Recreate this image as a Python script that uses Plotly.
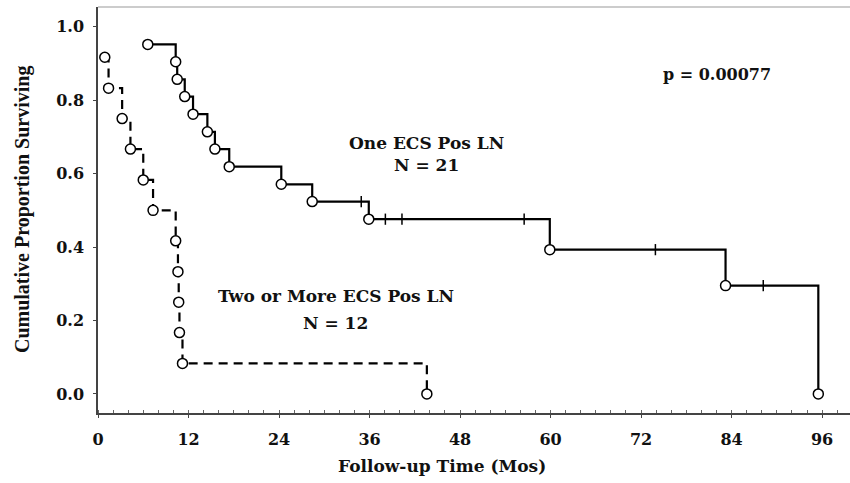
import plotly.graph_objects as go

# ---- data ----
one_times = [6.6, 10.3, 10.5, 11.5, 12.6, 14.5, 15.5, 17.4, 24.3, 28.4, 35.9, 59.9, 83.2, 95.5]
one_surv = [0.952, 0.905, 0.857, 0.810, 0.762, 0.714, 0.667, 0.619, 0.571, 0.524, 0.476, 0.393, 0.295, 0.0]
one_cens_times = [34.9, 38.1, 40.3, 56.5, 73.9, 88.2]
one_cens_surv = [0.524, 0.476, 0.476, 0.476, 0.393, 0.295]

two_times = [0.9, 1.4, 3.2, 4.3, 6.0, 7.3, 10.3, 10.6, 10.7, 10.8, 11.2, 43.6]
two_surv = [0.917, 0.833, 0.750, 0.667, 0.583, 0.500, 0.417, 0.333, 0.250, 0.167, 0.083, 0.0]

x_ticks = [0, 12, 24, 36, 48, 60, 72, 84, 96]
y_ticks = [0.0, 0.2, 0.4, 0.6, 0.8, 1.0]
y_tick_text = ["0.0", "0.2", "0.4", "0.6", "0.8", "1.0"]

label_one = ["One ECS Pos LN", "N = 21"]
label_two = ["Two or More ECS Pos LN", "N = 12"]
p_text = "p = 0.00077"
x_title = "Follow-up Time (Mos)"
y_title = "Cumulative Proportion Surviving"

SERIF = "DejaVu Serif"
TIMES = "Liberation Serif"

fig = go.Figure()

marker_style = dict(symbol="circle", size=10, color="white",
                    line=dict(color="black", width=1.5))

fig.add_trace(go.Scatter(
    x=one_times, y=one_surv, mode="lines+markers", line_shape="hv",
    line=dict(color="black", width=2.2), marker=marker_style,
    showlegend=False, cliponaxis=False))
fig.add_trace(go.Scatter(
    x=one_cens_times, y=one_cens_surv, mode="markers",
    marker=dict(symbol="line-ns-open", size=8, color="black",
                line=dict(color="black", width=1.5)),
    showlegend=False))

fig.add_trace(go.Scatter(
    x=two_times, y=two_surv, mode="lines+markers", line_shape="hv",
    line=dict(color="black", width=2.2, dash="9px,6px"), marker=marker_style,
    showlegend=False, cliponaxis=False))

tick_font = dict(family=SERIF, size=16, color="#111", weight="bold")

fig.update_xaxes(
    range=[0, 99.7], tickvals=x_ticks, ticktext=[str(v) for v in x_ticks],
    showline=True, linecolor="#444", linewidth=1.5, showgrid=False, zeroline=False,
    ticks="outside", ticklen=3, tickcolor="#444", ticklabelstandoff=8,
    tickfont=tick_font,
    minor=dict(dtick=2, ticks="inside", ticklen=3, tickcolor="#666"))
fig.update_yaxes(
    range=[-0.052, 1.054], tickvals=y_ticks, ticktext=y_tick_text,
    showline=True, linecolor="#444", linewidth=1.5, showgrid=False, zeroline=False,
    ticks="outside", ticklen=3, tickcolor="#444", ticklabelstandoff=6,
    tickfont=tick_font)

def ann(x, y, text, size=17, **kw):
    fig.add_annotation(x=x, y=y, text="<b>" + text + "</b>", showarrow=False,
                       font=dict(family=SERIF, size=size, color="#111"), **kw)

ann(82.1, 0.869, p_text, size=16)
ann(43.5, 0.684, label_one[0])
ann(43.5, 0.624, label_one[1])
ann(31.5, 0.267, label_two[0])
ann(31.5, 0.193, label_two[1])

fig.add_annotation(xref="paper", yref="paper", x=0.457, y=-0.13, yanchor="middle",
                   text="<b>" + x_title + "</b>", showarrow=False,
                   font=dict(family=SERIF, size=17, color="#111"))
fig.add_annotation(xref="paper", yref="paper", x=-0.101, y=0.5, xanchor="center",
                   yanchor="middle", textangle=-90,
                   text="<b>" + y_title + "</b>", showarrow=False,
                   font=dict(family=TIMES, size=20, color="#111"))

# light top frame line
fig.add_shape(type="line", xref="paper", yref="paper", x0=0, x1=1, y0=1, y1=1,
              line=dict(color="#bbbbbb", width=1.5))

fig.update_layout(
    width=850, height=483, margin=dict(l=98, r=0, t=7, b=70),
    paper_bgcolor="white", plot_bgcolor="white")

fig.write_html("out.html")
